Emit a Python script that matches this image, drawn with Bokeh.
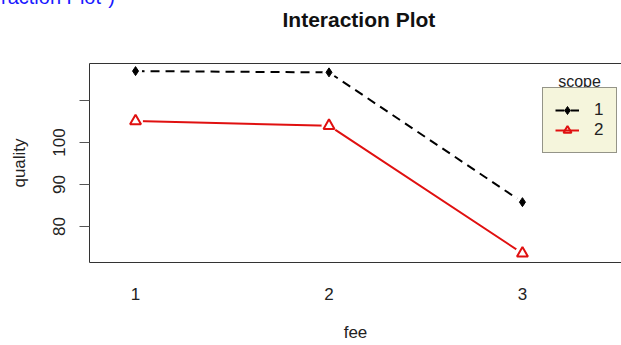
import numpy as np
from bokeh.plotting import figure
from bokeh.layouts import column
from bokeh.models import (Range1d, FixedTicker, LinearAxis, Label, Legend, LegendItem, Title, Div)
from bokeh.embed import file_html
from bokeh.resources import INLINE

# ---- data ----
fee = [1, 2, 3]
fee_labels = ["1", "2", "3"]
scope1 = [117.0, 116.7, 85.8]
scope2 = [105.1, 104.0, 73.6]
y_ticks = [80, 90, 100, 110]
scope_levels = ["1", "2"]

FONT = "Liberation Sans"
RED = "#e01010"
TXT = "#222222"

p = figure(width=621, height=345, output_backend="svg", toolbar_location=None,
           x_range=Range1d(0.762, 3.512), y_range=Range1d(71.43, 118.81),
           min_border_left=89, min_border_right=0, min_border_top=63, min_border_bottom=83,
           background_fill_color="white", border_fill_color="white",
           title_location=None)
p.outline_line_color = None
p.xgrid.visible = False
p.ygrid.visible = False

# x axis
xa = p.xaxis[0]
xa.ticker = FixedTicker(ticks=fee)
xa.major_label_overrides = {f: l for f, l in zip(fee, fee_labels)}
xa.major_tick_out = 0
xa.major_tick_in = 0
xa.minor_tick_line_color = None
xa.axis_line_color = "#333333"
xa.major_label_text_font = FONT
xa.major_label_text_font_size = "17px"
xa.major_label_text_color = TXT
xa.major_label_standoff = 25
xa.axis_label = "fee"
xa.axis_label_text_font = FONT
xa.axis_label_text_font_style = "normal"
xa.axis_label_text_font_size = "17px"
xa.axis_label_text_color = TXT
xa.axis_label_standoff = 20

# y axis
ya = p.yaxis[0]
ya.ticker = FixedTicker(ticks=y_ticks)
ya.major_label_overrides = {110: ""}
ya.major_tick_out = 10
ya.major_tick_in = 0
ya.major_tick_line_color = "#555555"
ya.minor_tick_line_color = None
ya.axis_line_color = "#333333"
ya.major_label_orientation = "vertical"
ya.major_label_text_font = FONT
ya.major_label_text_font_size = "17px"
ya.major_label_text_color = TXT
ya.major_label_standoff = 14
ya.axis_label = "quality"
ya.axis_label_text_font = FONT
ya.axis_label_text_font_style = "normal"
ya.axis_label_text_font_size = "17px"
ya.axis_label_text_color = TXT
ya.axis_label_standoff = 22

# top border line
top = LinearAxis(ticker=FixedTicker(ticks=[]), major_label_text_font_size="0px",
                 major_label_standoff=0, major_tick_out=0, major_tick_in=0,
                 major_tick_line_color=None, minor_tick_line_color=None,
                 axis_line_color="#333333")
p.add_layout(top, "above")

# main title (second empty line keeps it high above the box)
p.add_layout(Title(text="Interaction Plot\n ", align="left", offset=193, standoff=10,
                   text_font=FONT, text_font_size="21px", text_font_style="bold",
                   text_color="#111111", text_line_height=1.2), "above")

# series
l1 = p.line(fee, scope1, line_color="black", line_width=2, line_dash="9 6")
l2 = p.line(fee, scope2, line_color=RED, line_width=2)
# gaps around points (type = "b")
p.scatter(fee, scope1, size=13, fill_color="white", line_color=None)
p.scatter(fee, scope2, size=15, fill_color="white", line_color=None)
m1 = p.scatter(fee, scope1, marker="diamond", size=9,
               fill_color="black", line_color="black")
m2 = p.scatter(fee, scope2, marker="triangle", size=11, fill_color=None,
               line_color=RED, line_width=2)

legend = Legend(items=[LegendItem(label=scope_levels[0], renderers=[l1, m1]),
                       LegendItem(label=scope_levels[1], renderers=[l2, m2])],
                location=(453, 109), orientation="vertical",
                padding=12, spacing=0, margin=0,
                glyph_width=24, glyph_height=20, label_height=20,
                label_width=10, label_standoff=15,
                label_text_font=FONT, label_text_font_size="17px",
                label_text_color=TXT,
                background_fill_color="#f5f5dc", background_fill_alpha=1.0,
                border_line_color="#333333", border_line_width=1)
p.add_layout(legend, "center")

p.add_layout(Label(x=490, y=181, x_units="screen", y_units="screen",
                   text="scope", text_align="center", text_baseline="middle",
                   text_font=FONT, text_font_size="16px", text_color=TXT))

frag = Div(text='raction Plot")', width=130, height=24,
           styles={"position": "absolute", "top": "-18px", "left": "-4px",
                   "color": "#1a1aff", "font-family": "Liberation Sans",
                   "font-size": "20px", "line-height": "20px", "white-space": "nowrap",
                   "z-index": "5"})

root = column(frag, p, spacing=0)
open("out.html", "w").write(file_html(root, INLINE))
